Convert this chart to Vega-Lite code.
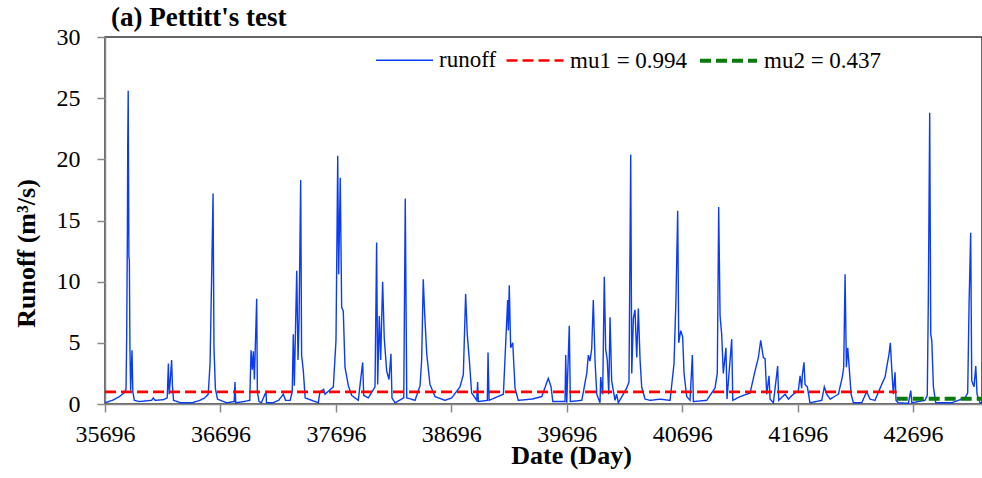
{
  "$schema": "https://vega.github.io/schema/vega-lite/v6.json",
  "autosize": {"type": "none"},
  "width": 877,
  "height": 367,
  "padding": {"left": 105, "top": 37, "right": 0, "bottom": 74},
  "background": "white",
  "title": {"text": "(a) Pettitt's test", "font": "Liberation Serif", "fontSize": 27, "fontWeight": "bold", "color": "black", "anchor": "start", "frame": "group", "baseline": "alphabetic", "offset": -28, "dx": 6},
  "config": {
    "view": {"stroke": "#333333", "strokeWidth": 1.5},
    "axis": {"grid": false, "domainColor": "#888888", "domainWidth": 1.5, "tickColor": "#888888", "tickWidth": 1.5, "tickSize": 8, "labelFont": "Liberation Serif", "labelFontSize": 24, "labelColor": "black", "labelFlush": false, "titleFont": "Liberation Serif", "titleFontSize": 26, "titleFontWeight": "bold", "titleColor": "black"},
    "legend": {"orient": "none", "legendX": 270, "legendY": -7, "direction": "horizontal", "title": null, "labelFont": "Liberation Serif", "labelFontSize": 23, "labelColor": "black", "symbolType": "stroke", "symbolSize": 3249, "labelOffset": 5, "columnPadding": 4, "padding": 0}
  },
  "data": {"values": [
    {"day": 35696, "value": 0.1, "series": "runoff"},
    {"day": 35760, "value": 0.3, "series": "runoff"},
    {"day": 35820, "value": 0.6, "series": "runoff"},
    {"day": 35860, "value": 0.9, "series": "runoff"},
    {"day": 35878, "value": 1.2, "series": "runoff"},
    {"day": 35884, "value": 5.6, "series": "runoff"},
    {"day": 35890, "value": 14.0, "series": "runoff"},
    {"day": 35893, "value": 21.3, "series": "runoff"},
    {"day": 35897, "value": 25.6, "series": "runoff"},
    {"day": 35903, "value": 12.0, "series": "runoff"},
    {"day": 35907, "value": 11.8, "series": "runoff"},
    {"day": 35912, "value": 4.6, "series": "runoff"},
    {"day": 35918, "value": 1.1, "series": "runoff"},
    {"day": 35930, "value": 4.4, "series": "runoff"},
    {"day": 35937, "value": 1.0, "series": "runoff"},
    {"day": 35950, "value": 0.3, "series": "runoff"},
    {"day": 35990, "value": 0.2, "series": "runoff"},
    {"day": 36050, "value": 0.25, "series": "runoff"},
    {"day": 36100, "value": 0.3, "series": "runoff"},
    {"day": 36114, "value": 0.5, "series": "runoff"},
    {"day": 36130, "value": 0.3, "series": "runoff"},
    {"day": 36200, "value": 0.35, "series": "runoff"},
    {"day": 36235, "value": 0.5, "series": "runoff"},
    {"day": 36245, "value": 3.3, "series": "runoff"},
    {"day": 36252, "value": 0.8, "series": "runoff"},
    {"day": 36262, "value": 2.0, "series": "runoff"},
    {"day": 36273, "value": 3.6, "series": "runoff"},
    {"day": 36280, "value": 1.5, "series": "runoff"},
    {"day": 36290, "value": 0.3, "series": "runoff"},
    {"day": 36350, "value": 0.1, "series": "runoff"},
    {"day": 36450, "value": 0.1, "series": "runoff"},
    {"day": 36519, "value": 0.3, "series": "runoff"},
    {"day": 36560, "value": 0.5, "series": "runoff"},
    {"day": 36590, "value": 0.8, "series": "runoff"},
    {"day": 36606, "value": 3.3, "series": "runoff"},
    {"day": 36620, "value": 10.5, "series": "runoff"},
    {"day": 36632, "value": 17.2, "series": "runoff"},
    {"day": 36640, "value": 4.6, "series": "runoff"},
    {"day": 36652, "value": 1.3, "series": "runoff"},
    {"day": 36670, "value": 0.4, "series": "runoff"},
    {"day": 36750, "value": 0.1, "series": "runoff"},
    {"day": 36815, "value": 0.2, "series": "runoff"},
    {"day": 36822, "value": 1.8, "series": "runoff"},
    {"day": 36828, "value": 0.1, "series": "runoff"},
    {"day": 36900, "value": 0.2, "series": "runoff"},
    {"day": 36950, "value": 0.3, "series": "runoff"},
    {"day": 36961, "value": 4.4, "series": "runoff"},
    {"day": 36972, "value": 2.8, "series": "runoff"},
    {"day": 36981, "value": 4.3, "series": "runoff"},
    {"day": 36990, "value": 2.0, "series": "runoff"},
    {"day": 37010, "value": 8.6, "series": "runoff"},
    {"day": 37016, "value": 1.0, "series": "runoff"},
    {"day": 37030, "value": 0.2, "series": "runoff"},
    {"day": 37050, "value": 0.1, "series": "runoff"},
    {"day": 37091, "value": 1.0, "series": "runoff"},
    {"day": 37095, "value": 0.1, "series": "runoff"},
    {"day": 37150, "value": 0.1, "series": "runoff"},
    {"day": 37200, "value": 0.3, "series": "runoff"},
    {"day": 37241, "value": 0.8, "series": "runoff"},
    {"day": 37260, "value": 0.3, "series": "runoff"},
    {"day": 37300, "value": 0.3, "series": "runoff"},
    {"day": 37318, "value": 1.0, "series": "runoff"},
    {"day": 37327, "value": 5.7, "series": "runoff"},
    {"day": 37336, "value": 1.5, "series": "runoff"},
    {"day": 37357, "value": 10.9, "series": "runoff"},
    {"day": 37368, "value": 3.6, "series": "runoff"},
    {"day": 37377, "value": 6.8, "series": "runoff"},
    {"day": 37391, "value": 18.3, "series": "runoff"},
    {"day": 37399, "value": 4.0, "series": "runoff"},
    {"day": 37414, "value": 2.7, "series": "runoff"},
    {"day": 37430, "value": 0.5, "series": "runoff"},
    {"day": 37544, "value": 0.1, "series": "runoff"},
    {"day": 37558, "value": 1.0, "series": "runoff"},
    {"day": 37590, "value": 1.2, "series": "runoff"},
    {"day": 37602, "value": 0.8, "series": "runoff"},
    {"day": 37674, "value": 1.4, "series": "runoff"},
    {"day": 37697, "value": 5.2, "series": "runoff"},
    {"day": 37712, "value": 20.3, "series": "runoff"},
    {"day": 37720, "value": 10.6, "series": "runoff"},
    {"day": 37734, "value": 18.5, "series": "runoff"},
    {"day": 37746, "value": 7.9, "series": "runoff"},
    {"day": 37760, "value": 7.6, "series": "runoff"},
    {"day": 37775, "value": 3.0, "series": "runoff"},
    {"day": 37804, "value": 1.5, "series": "runoff"},
    {"day": 37833, "value": 0.7, "series": "runoff"},
    {"day": 37890, "value": 0.3, "series": "runoff"},
    {"day": 37928, "value": 3.4, "series": "runoff"},
    {"day": 37937, "value": 0.7, "series": "runoff"},
    {"day": 37977, "value": 0.5, "series": "runoff"},
    {"day": 38035, "value": 1.4, "series": "runoff"},
    {"day": 38049, "value": 13.2, "series": "runoff"},
    {"day": 38058, "value": 1.6, "series": "runoff"},
    {"day": 38072, "value": 7.2, "series": "runoff"},
    {"day": 38084, "value": 3.6, "series": "runoff"},
    {"day": 38101, "value": 10.0, "series": "runoff"},
    {"day": 38115, "value": 5.4, "series": "runoff"},
    {"day": 38136, "value": 2.7, "series": "runoff"},
    {"day": 38156, "value": 2.0, "series": "runoff"},
    {"day": 38173, "value": 4.1, "series": "runoff"},
    {"day": 38182, "value": 0.5, "series": "runoff"},
    {"day": 38208, "value": 0.1, "series": "runoff"},
    {"day": 38284, "value": 0.5, "series": "runoff"},
    {"day": 38297, "value": 16.8, "series": "runoff"},
    {"day": 38310, "value": 0.5, "series": "runoff"},
    {"day": 38382, "value": 0.3, "series": "runoff"},
    {"day": 38425, "value": 1.5, "series": "runoff"},
    {"day": 38439, "value": 3.6, "series": "runoff"},
    {"day": 38453, "value": 10.2, "series": "runoff"},
    {"day": 38465, "value": 7.4, "series": "runoff"},
    {"day": 38483, "value": 4.1, "series": "runoff"},
    {"day": 38511, "value": 1.6, "series": "runoff"},
    {"day": 38555, "value": 0.6, "series": "runoff"},
    {"day": 38641, "value": 0.3, "series": "runoff"},
    {"day": 38699, "value": 0.5, "series": "runoff"},
    {"day": 38771, "value": 1.4, "series": "runoff"},
    {"day": 38800, "value": 2.4, "series": "runoff"},
    {"day": 38820, "value": 9.0, "series": "runoff"},
    {"day": 38834, "value": 5.7, "series": "runoff"},
    {"day": 38852, "value": 3.6, "series": "runoff"},
    {"day": 38872, "value": 0.9, "series": "runoff"},
    {"day": 38916, "value": 0.3, "series": "runoff"},
    {"day": 38924, "value": 1.8, "series": "runoff"},
    {"day": 38930, "value": 0.2, "series": "runoff"},
    {"day": 39008, "value": 0.3, "series": "runoff"},
    {"day": 39014, "value": 4.2, "series": "runoff"},
    {"day": 39023, "value": 0.3, "series": "runoff"},
    {"day": 39147, "value": 0.8, "series": "runoff"},
    {"day": 39184, "value": 8.5, "series": "runoff"},
    {"day": 39190, "value": 6.0, "series": "runoff"},
    {"day": 39198, "value": 9.7, "series": "runoff"},
    {"day": 39210, "value": 4.6, "series": "runoff"},
    {"day": 39228, "value": 5.0, "series": "runoff"},
    {"day": 39248, "value": 1.3, "series": "runoff"},
    {"day": 39276, "value": 0.3, "series": "runoff"},
    {"day": 39393, "value": 0.4, "series": "runoff"},
    {"day": 39479, "value": 0.6, "series": "runoff"},
    {"day": 39536, "value": 2.1, "series": "runoff"},
    {"day": 39560, "value": 1.4, "series": "runoff"},
    {"day": 39575, "value": 0.2, "series": "runoff"},
    {"day": 39681, "value": 0.2, "series": "runoff"},
    {"day": 39687, "value": 4.0, "series": "runoff"},
    {"day": 39696, "value": 0.1, "series": "runoff"},
    {"day": 39718, "value": 6.4, "series": "runoff"},
    {"day": 39727, "value": 0.2, "series": "runoff"},
    {"day": 39826, "value": 0.3, "series": "runoff"},
    {"day": 39840, "value": 1.0, "series": "runoff"},
    {"day": 39869, "value": 2.5, "series": "runoff"},
    {"day": 39883, "value": 4.0, "series": "runoff"},
    {"day": 39897, "value": 3.5, "series": "runoff"},
    {"day": 39912, "value": 4.5, "series": "runoff"},
    {"day": 39926, "value": 8.5, "series": "runoff"},
    {"day": 39941, "value": 3.5, "series": "runoff"},
    {"day": 39956, "value": 0.8, "series": "runoff"},
    {"day": 39984, "value": 0.1, "series": "runoff"},
    {"day": 39990, "value": 2.2, "series": "runoff"},
    {"day": 40007, "value": 0.8, "series": "runoff"},
    {"day": 40021, "value": 10.4, "series": "runoff"},
    {"day": 40033, "value": 4.5, "series": "runoff"},
    {"day": 40047, "value": 3.6, "series": "runoff"},
    {"day": 40060, "value": 0.8, "series": "runoff"},
    {"day": 40071, "value": 7.1, "series": "runoff"},
    {"day": 40085, "value": 1.9, "series": "runoff"},
    {"day": 40114, "value": 0.3, "series": "runoff"},
    {"day": 40128, "value": 0.8, "series": "runoff"},
    {"day": 40143, "value": 0.1, "series": "runoff"},
    {"day": 40215, "value": 1.3, "series": "runoff"},
    {"day": 40235, "value": 1.8, "series": "runoff"},
    {"day": 40250, "value": 20.4, "series": "runoff"},
    {"day": 40259, "value": 2.5, "series": "runoff"},
    {"day": 40273, "value": 7.0, "series": "runoff"},
    {"day": 40287, "value": 7.7, "series": "runoff"},
    {"day": 40302, "value": 3.8, "series": "runoff"},
    {"day": 40316, "value": 7.8, "series": "runoff"},
    {"day": 40331, "value": 3.6, "series": "runoff"},
    {"day": 40345, "value": 1.4, "series": "runoff"},
    {"day": 40374, "value": 0.4, "series": "runoff"},
    {"day": 40417, "value": 0.3, "series": "runoff"},
    {"day": 40504, "value": 0.4, "series": "runoff"},
    {"day": 40591, "value": 0.3, "series": "runoff"},
    {"day": 40625, "value": 3.3, "series": "runoff"},
    {"day": 40642, "value": 8.6, "series": "runoff"},
    {"day": 40657, "value": 15.8, "series": "runoff"},
    {"day": 40666, "value": 5.0, "series": "runoff"},
    {"day": 40683, "value": 6.0, "series": "runoff"},
    {"day": 40700, "value": 5.5, "series": "runoff"},
    {"day": 40712, "value": 2.5, "series": "runoff"},
    {"day": 40735, "value": 0.6, "series": "runoff"},
    {"day": 40764, "value": 0.3, "series": "runoff"},
    {"day": 40784, "value": 4.0, "series": "runoff"},
    {"day": 40793, "value": 0.2, "series": "runoff"},
    {"day": 40908, "value": 0.3, "series": "runoff"},
    {"day": 40980, "value": 1.3, "series": "runoff"},
    {"day": 41000, "value": 2.5, "series": "runoff"},
    {"day": 41012, "value": 16.1, "series": "runoff"},
    {"day": 41024, "value": 7.2, "series": "runoff"},
    {"day": 41038, "value": 5.7, "series": "runoff"},
    {"day": 41052, "value": 2.5, "series": "runoff"},
    {"day": 41075, "value": 4.6, "series": "runoff"},
    {"day": 41084, "value": 0.4, "series": "runoff"},
    {"day": 41125, "value": 5.3, "series": "runoff"},
    {"day": 41134, "value": 0.3, "series": "runoff"},
    {"day": 41197, "value": 0.6, "series": "runoff"},
    {"day": 41284, "value": 0.9, "series": "runoff"},
    {"day": 41327, "value": 2.7, "series": "runoff"},
    {"day": 41356, "value": 3.8, "series": "runoff"},
    {"day": 41376, "value": 5.2, "series": "runoff"},
    {"day": 41399, "value": 3.8, "series": "runoff"},
    {"day": 41414, "value": 3.7, "series": "runoff"},
    {"day": 41428, "value": 0.8, "series": "runoff"},
    {"day": 41448, "value": 2.3, "series": "runoff"},
    {"day": 41457, "value": 0.4, "series": "runoff"},
    {"day": 41486, "value": 0.1, "series": "runoff"},
    {"day": 41523, "value": 3.1, "series": "runoff"},
    {"day": 41532, "value": 0.3, "series": "runoff"},
    {"day": 41587, "value": 0.8, "series": "runoff"},
    {"day": 41616, "value": 0.4, "series": "runoff"},
    {"day": 41659, "value": 0.8, "series": "runoff"},
    {"day": 41702, "value": 1.1, "series": "runoff"},
    {"day": 41717, "value": 2.3, "series": "runoff"},
    {"day": 41731, "value": 1.3, "series": "runoff"},
    {"day": 41737, "value": 2.4, "series": "runoff"},
    {"day": 41751, "value": 3.4, "series": "runoff"},
    {"day": 41760, "value": 1.6, "series": "runoff"},
    {"day": 41780, "value": 1.4, "series": "runoff"},
    {"day": 41803, "value": 0.1, "series": "runoff"},
    {"day": 41905, "value": 0.3, "series": "runoff"},
    {"day": 41927, "value": 1.4, "series": "runoff"},
    {"day": 41948, "value": 0.8, "series": "runoff"},
    {"day": 41977, "value": 0.4, "series": "runoff"},
    {"day": 42049, "value": 0.8, "series": "runoff"},
    {"day": 42083, "value": 2.2, "series": "runoff"},
    {"day": 42095, "value": 3.0, "series": "runoff"},
    {"day": 42107, "value": 10.6, "series": "runoff"},
    {"day": 42118, "value": 3.0, "series": "runoff"},
    {"day": 42130, "value": 4.6, "series": "runoff"},
    {"day": 42141, "value": 3.2, "series": "runoff"},
    {"day": 42159, "value": 0.8, "series": "runoff"},
    {"day": 42179, "value": 0.1, "series": "runoff"},
    {"day": 42251, "value": 0.1, "series": "runoff"},
    {"day": 42294, "value": 1.0, "series": "runoff"},
    {"day": 42323, "value": 0.4, "series": "runoff"},
    {"day": 42366, "value": 0.3, "series": "runoff"},
    {"day": 42424, "value": 1.6, "series": "runoff"},
    {"day": 42453, "value": 2.2, "series": "runoff"},
    {"day": 42473, "value": 3.3, "series": "runoff"},
    {"day": 42488, "value": 4.1, "series": "runoff"},
    {"day": 42499, "value": 5.0, "series": "runoff"},
    {"day": 42511, "value": 2.9, "series": "runoff"},
    {"day": 42525, "value": 0.8, "series": "runoff"},
    {"day": 42540, "value": 2.6, "series": "runoff"},
    {"day": 42548, "value": 0.3, "series": "runoff"},
    {"day": 42568, "value": 0.1, "series": "runoff"},
    {"day": 42655, "value": 0.05, "series": "runoff"},
    {"day": 42676, "value": 1.1, "series": "runoff"},
    {"day": 42685, "value": 0.1, "series": "runoff"},
    {"day": 42799, "value": 0.3, "series": "runoff"},
    {"day": 42819, "value": 0.7, "series": "runoff"},
    {"day": 42828, "value": 8.5, "series": "runoff"},
    {"day": 42840, "value": 23.8, "series": "runoff"},
    {"day": 42849, "value": 5.7, "series": "runoff"},
    {"day": 42858, "value": 5.2, "series": "runoff"},
    {"day": 42872, "value": 1.4, "series": "runoff"},
    {"day": 42892, "value": 0.1, "series": "runoff"},
    {"day": 43031, "value": 0.1, "series": "runoff"},
    {"day": 43146, "value": 0.5, "series": "runoff"},
    {"day": 43169, "value": 0.9, "series": "runoff"},
    {"day": 43181, "value": 8.2, "series": "runoff"},
    {"day": 43195, "value": 14.0, "series": "runoff"},
    {"day": 43204, "value": 1.9, "series": "runoff"},
    {"day": 43224, "value": 1.4, "series": "runoff"},
    {"day": 43239, "value": 3.1, "series": "runoff"},
    {"day": 43250, "value": 0.8, "series": "runoff"},
    {"day": 43276, "value": 0.1, "series": "runoff"},
    {"day": 43293, "value": 0.1, "series": "runoff"},
    {"day": 35696, "value": 0.994, "series": "mu1 = 0.994"},
    {"day": 42554, "value": 0.994, "series": "mu1 = 0.994"},
    {"day": 42554, "value": 0.437, "series": "mu2 = 0.437"},
    {"day": 43293, "value": 0.437, "series": "mu2 = 0.437"}
  ]},
  "encoding": {
    "x": {"field": "day", "type": "quantitative", "scale": {"domain": [35696, 43293], "nice": false, "zero": false},
      "axis": {"values": [35696, 36696, 37696, 38696, 39696, 40696, 41696, 42696], "format": "d", "labelPadding": 10, "title": "Date (Day)", "titleX": 466, "titleY": 59, "titleBaseline": "alphabetic"}},
    "y": {"field": "value", "type": "quantitative", "scale": {"domain": [0, 30], "nice": false},
      "axis": {"values": [0, 5, 10, 15, 20, 25, 30], "labelPadding": 17, "title": "Runoff (m³/s)", "titleX": -79, "titleY": 216, "titleBaseline": "middle", "titleAlign": "center", "titleAngle": 270}},
    "color": {"field": "series", "type": "nominal", "scale": {"domain": ["runoff", "mu1 = 0.994", "mu2 = 0.437"], "range": ["#0a3cf5", "#ff0000", "#0a7a0a"]}},
    "strokeDash": {"field": "series", "type": "nominal", "scale": {"domain": ["runoff", "mu1 = 0.994", "mu2 = 0.437"], "range": [[1, 0], [11, 5], [11, 5]]}},
    "strokeWidth": {"field": "series", "type": "nominal", "scale": {"domain": ["runoff", "mu1 = 0.994", "mu2 = 0.437"], "range": [1.4, 4, 4]}}
  },
  "layer": [
    {"transform": [{"filter": "datum.series === 'runoff'"}], "mark": {"type": "line", "clip": true}},
    {"transform": [{"filter": "datum.series !== 'runoff'"}], "mark": {"type": "line", "clip": true}}
  ]
}
